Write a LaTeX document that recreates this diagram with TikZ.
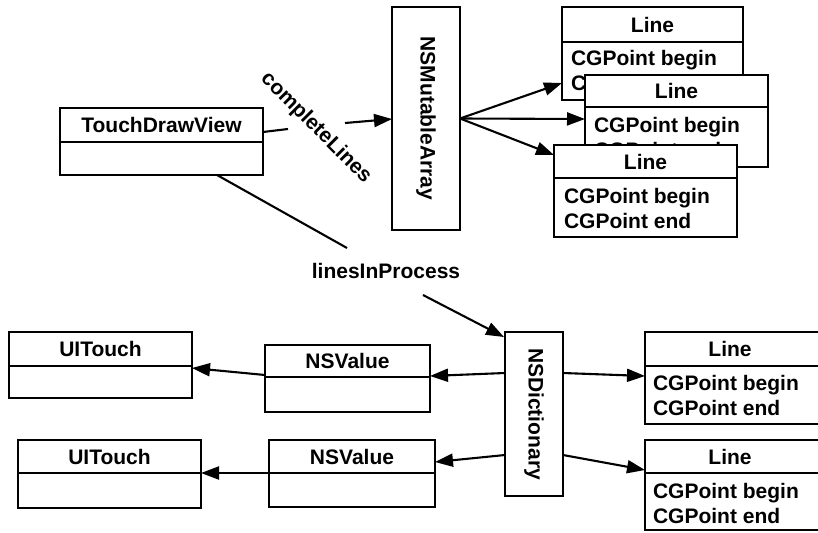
\documentclass[tikz,border=0pt]{standalone}
\usepackage{fontspec}
\setmainfont{Liberation Sans}
\usetikzlibrary{arrows.meta,calc}
\tikzset{
  box/.style={draw, line width=2.1pt, fill=white, inner sep=0pt, outer sep=0pt, anchor=north west},
  lbl/.style={font=\bfseries\fontsize{21}{25}\selectfont, inner sep=0pt, outer sep=0pt},
  ln/.style={line width=2.1pt},
  arr/.style={line width=2.1pt, -{Triangle[length=18pt,width=13pt]}}
}
\begin{document}
\begin{tikzpicture}[x=1pt,y=-1pt]
\useasboundingbox (0,0) rectangle (818,532);
\clip (0,0) rectangle (818,532);
\fill[white] (0,0) rectangle (818,532);

% TouchDrawView
\node[box, minimum width=203pt, minimum height=67pt] (tdv) at (60,108) {};
\draw[ln] (60,142) -- (263,142);
\node[lbl] (tdvT) at (161.5,125) {TouchDrawView};

% NSMutableArray
\node[box, minimum width=68pt, minimum height=223pt] (nsma) at (392,7) {};
\node[lbl, rotate=-90] (nsmaT) at (426,118.5) {NSMutableArray};

% Line 1
\node[box, minimum width=181pt, minimum height=93pt] (ln1) at (562,7) {};
\draw[ln] (562,42) -- (743,42);
\node[lbl] (ln1T) at (652.5,24.5) {Line};
\node[lbl, anchor=base west] (ln1a) at (571,66) {CGPoint begin};
\node[lbl, anchor=base west] (ln1b) at (571,91) {CGPoint end};

% Line 2
\node[box, minimum width=183pt, minimum height=92pt] (ln2) at (585,75) {};
\draw[ln] (585,107) -- (768,107);
\node[lbl] (ln2T) at (676.5,91) {Line};
\node[lbl, anchor=base west] (ln2a) at (594,132) {CGPoint begin};
\node[lbl, anchor=base west] (ln2b) at (594,157) {CGPoint end};

% Line 3
\node[box, minimum width=183pt, minimum height=92pt] (ln3) at (554,145) {};
\draw[ln] (554,178) -- (737,178);
\node[lbl] (ln3T) at (645.5,162) {Line};
\node[lbl, anchor=base west] (ln3a) at (564,203) {CGPoint begin};
\node[lbl, anchor=base west] (ln3b) at (564,228) {CGPoint end};

% completeLines
\node[lbl, rotate=-45] (cl) at (316,128) {completeLines};
\coordinate (cA) at (288,129);
\coordinate (cB) at (345,123);
\draw[ln] ($(tdv.north east)+(0,24)$) -- (cA);
\draw[arr] (cB) -- ($(nsma.north west)+(0,112)$);

% arrows from NSMutableArray
\draw[arr] (nsma.east) -- ($(ln1.north west)+(0,76)$);
\draw[arr] (nsma.east) -- ($(ln2.north west)+(0,44)$);
\draw[arr] (nsma.east) -- ($(ln3.north west)+(0,10)$);

% linesInProcess
\node[lbl] (lip) at (386,271) {linesInProcess};
\coordinate (lA) at (347,248);
\coordinate (lB) at (423,295);
\draw[ln] ($(tdv.south west)+(157,0)$) -- (lA);

% NSDictionary
\node[box, minimum width=58pt, minimum height=164pt] (nsd) at (505,332) {};
\node[lbl, rotate=-90] (nsdT) at (534,414) {NSDictionary};
\draw[arr] (lB) -- ($(nsd.north west)+(-1,5)$);

% bottom Line boxes
\node[box, minimum width=185pt, minimum height=92pt] (lb1) at (645,332) {};
\draw[ln] (645,366) -- (830,366);
\node[lbl] (lb1T) at (730,349) {Line};
\node[lbl, anchor=base west] (lb1a) at (653,390) {CGPoint begin};
\node[lbl, anchor=base west] (lb1b) at (653,415) {CGPoint end};

\node[box, minimum width=185pt, minimum height=90pt] (lb2) at (645,440) {};
\draw[ln] (645,473) -- (830,473);
\node[lbl] (lb2T) at (730,457) {Line};
\node[lbl, anchor=base west] (lb2a) at (653,498) {CGPoint begin};
\node[lbl, anchor=base west] (lb2b) at (653,523) {CGPoint end};

% NSValue boxes
\node[box, minimum width=165pt, minimum height=67pt] (nsv1) at (265,345) {};
\draw[ln] (265,377) -- (430,377);
\node[lbl] (nsv1T) at (347.5,361) {NSValue};

\node[box, minimum width=166pt, minimum height=67pt] (nsv2) at (269,440) {};
\draw[ln] (269,473) -- (435,473);
\node[lbl] (nsv2T) at (352,456.5) {NSValue};

% UITouch boxes
\node[box, minimum width=183pt, minimum height=66pt] (uit1) at (9,332) {};
\draw[ln] (9,366) -- (192,366);
\node[lbl] (uit1T) at (100.5,349) {UITouch};

\node[box, minimum width=183pt, minimum height=68pt] (uit2) at (18,440) {};
\draw[ln] (18,473) -- (201,473);
\node[lbl] (uit2T) at (109.5,456.5) {UITouch};

% arrows from NSDictionary
\draw[arr] ($(nsd.north west)+(0,41)$) -- ($(nsv1.north east)+(0,31)$);
\draw[arr] ($(nsd.north west)+(0,123)$) -- ($(nsv2.north east)+(0,22)$);
\draw[arr] ($(nsd.north east)+(0,41)$) -- ($(lb1.north west)+(0,44)$);
\draw[arr] ($(nsd.north east)+(0,123)$) -- ($(lb2.north west)+(0,30)$);

% arrows from NSValue
\draw[arr] ($(nsv1.north west)+(0,30)$) -- ($(uit1.north east)+(0,36)$);
\draw[arr] ($(nsv2.north west)+(0,33)$) -- ($(uit2.north east)+(0,33)$);
\end{tikzpicture}
\end{document}
